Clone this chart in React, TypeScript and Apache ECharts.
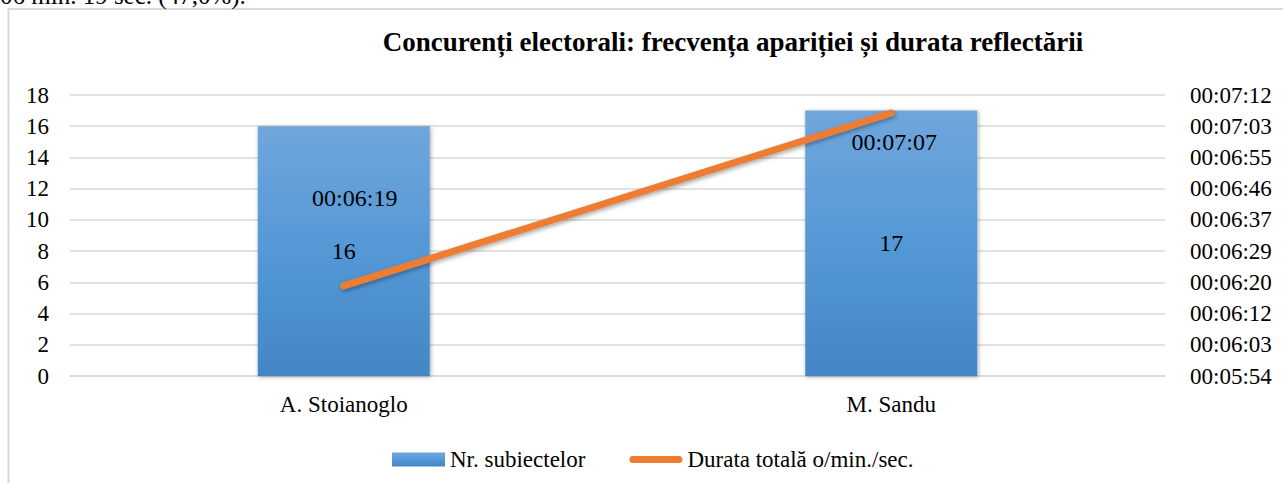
import React, { useEffect, useRef } from "react";
import * as echarts from "echarts";

const categories = ["A. Stoianoglo", "M. Sandu"];
const subjectCounts = [16, 17];
// total duration in seconds: 00:06:19 and 00:07:07
const durationSeconds = [379, 427];
const leftAxisMin = 0;
const leftAxisMax = 18;
const leftAxisInterval = 2;
const rightAxisMinSec = 354;
const rightAxisMaxSec = 432;
const rightTickLabels = [
  "00:05:54",
  "00:06:03",
  "00:06:12",
  "00:06:20",
  "00:06:29",
  "00:06:37",
  "00:06:46",
  "00:06:55",
  "00:07:03",
  "00:07:12",
];
const seriesNames = ["Nr. subiectelor", "Durata totală o/min./sec."];
const titleText = "Concurenți electorali: frecvența apariției și durata reflectării";
const docFragmentText = "06 min. 19 sec. (47,0%).";

const SERIF = "'Times New Roman', 'Liberation Serif', serif";
const ORANGE = "#ed7d31";

function fmtDuration(s: number): string {
  const h = Math.floor(s / 3600);
  const m = Math.floor((s % 3600) / 60);
  const sec = Math.round(s % 60);
  const p = (n: number) => String(n).padStart(2, "0");
  return `${p(h)}:${p(m)}:${p(sec)}`;
}

const lineLabelOffsets: [number, number][] = [
  [11, -88],
  [3, 29],
];

export default function App() {
  const ref = useRef<HTMLDivElement>(null);
  useEffect(() => {
    if (!ref.current) return;
    const chart = echarts.init(ref.current, null, { renderer: "svg" });
    const rightStep = (rightAxisMaxSec - rightAxisMinSec) / (rightTickLabels.length - 1);
    const barColor = new echarts.graphic.LinearGradient(0, 0, 0, 1, [
      { offset: 0, color: "#70a6dc" },
      { offset: 0.5, color: "#5498d6" },
      { offset: 1, color: "#4386c6" },
    ]);
    chart.setOption({
      animation: false,
      backgroundColor: "#ffffff",
      textStyle: { fontFamily: SERIF, color: "#000" },
      graphic: [
        {
          type: "rect",
          shape: { x: 8.5, y: 9, width: 1400, height: 600 },
          style: { fill: "none", stroke: "#d9d9d9", lineWidth: 2 },
          silent: true,
        },
        {
          type: "text",
          x: 0,
          y: 8,
          style: {
            text: docFragmentText,
            fontFamily: SERIF,
            fontSize: 25,
            fill: "#000",
            align: "left",
            verticalAlign: "bottom",
          },
        },
        {
          type: "text",
          x: 733,
          y: 42,
          style: {
            text: titleText,
            fontFamily: SERIF,
            fontSize: 27,
            fontWeight: "bold",
            fill: "#000",
            align: "center",
            verticalAlign: "middle",
          },
        },
      ],
      grid: { left: 70, right: 118, top: 95, bottom: 107, containLabel: false },
      legend: {
        left: 387,
        top: 443,
        itemWidth: 53,
        itemHeight: 14,
        itemGap: 44,
        textStyle: { fontFamily: SERIF, fontSize: 23, color: "#000" },
        data: [
          { name: seriesNames[0], icon: "rect" },
          {
            name: seriesNames[1],
            icon: "path://M3.5,0 H49.5 A3.5,3.5 0 0 1 49.5,7 H3.5 A3.5,3.5 0 0 1 3.5,0 Z",
            itemStyle: { color: ORANGE },
          },
        ],
      },
      xAxis: {
        type: "category",
        data: categories,
        axisTick: { show: false },
        axisLine: { show: true, lineStyle: { color: "#d9d9d9", width: 1.5 } },
        axisLabel: { fontFamily: SERIF, fontSize: 23, color: "#000", margin: 17 },
      },
      yAxis: [
        {
          type: "value",
          min: leftAxisMin,
          max: leftAxisMax,
          interval: leftAxisInterval,
          axisLine: { show: false },
          axisTick: { show: false },
          splitLine: { lineStyle: { color: "#d9d9d9", width: 1.5 } },
          axisLabel: { fontFamily: SERIF, fontSize: 23, color: "#000", margin: 21 },
        },
        {
          type: "value",
          position: "right",
          min: rightAxisMinSec,
          max: rightAxisMaxSec,
          alignTicks: true,
          axisLine: { show: false },
          axisTick: { show: false },
          splitLine: { show: false },
          axisLabel: {
            fontFamily: SERIF,
            fontSize: 23,
            color: "#000",
            margin: 25,
            formatter: (v: number) => {
              const i = Math.round((v - rightAxisMinSec) / rightStep);
              return rightTickLabels[i] ?? "";
            },
          },
        },
      ],
      series: [
        {
          name: seriesNames[0],
          type: "bar",
          yAxisIndex: 0,
          barWidth: 172,
          data: subjectCounts,
          itemStyle: {
            color: barColor,
            shadowBlur: 4,
            shadowColor: "rgba(0,0,0,0.35)",
            shadowOffsetX: 1,
            shadowOffsetY: 1,
          },
          label: {
            show: true,
            position: "inside",
            fontFamily: SERIF,
            fontSize: 24,
            color: "#000",
          },
        },
        {
          name: seriesNames[1],
          type: "line",
          yAxisIndex: 1,
          symbol: "circle",
          symbolSize: 1,
          itemStyle: { color: ORANGE },
          lineStyle: {
            color: ORANGE,
            width: 7,
            cap: "round",
            shadowBlur: 4,
            shadowColor: "rgba(0,0,0,0.35)",
            shadowOffsetX: 1,
            shadowOffsetY: 2,
          },
          data: durationSeconds.map((v, i) => ({
            value: v,
            label: {
              show: true,
              position: "inside",
              offset: lineLabelOffsets[i],
              formatter: () => fmtDuration(v),
              fontFamily: SERIF,
              fontSize: 24,
              color: "#000",
            },
          })),
        },
      ],
    });
    return () => chart.dispose();
  }, []);
  return (
    <div
      ref={ref}
      style={{ position: "absolute", left: 0, top: 0, width: 1283, height: 483 }}
    />
  );
}
